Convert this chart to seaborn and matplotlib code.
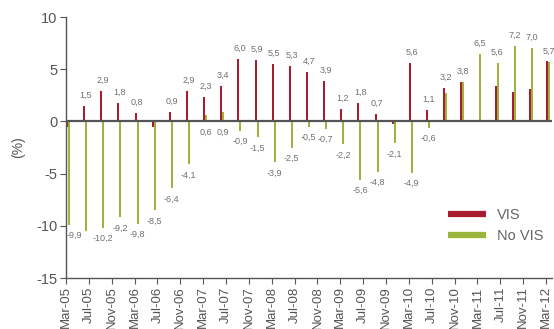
import numpy as np
import pandas as pd
import matplotlib
matplotlib.use("Agg")
import matplotlib.pyplot as plt
from matplotlib import font_manager
from matplotlib.lines import Line2D
import seaborn as sns

# Quarterly change, Mar-05 .. Mar-12 (%)
vis = [-0.5, 1.5, 2.9, 1.8, 0.8, -0.5, 0.9, 2.9, 2.3, 3.4, 6.0, 5.9, 5.5, 5.3, 4.7,
       3.9, 1.2, 1.8, 0.7, -0.2, 5.6, 1.1, 3.2, 3.8, 0.0, 3.4, 2.8, 3.1, 5.8]
no_vis = [-9.9, -10.5, -10.2, -9.2, -9.8, -8.5, -6.4, -4.1, 0.6, 0.9, -0.9, -1.5, -3.9,
          -2.5, -0.5, -0.7, -2.2, -5.6, -4.8, -2.1, -4.9, -0.6, 2.7, 3.8, 6.5, 5.6,
          7.2, 7.0, 5.7]
# which bars carry a value label
vis_labeled = [0, 1, 1, 1, 1, 0, 1, 1, 1, 1, 1, 1, 1, 1, 1, 1, 1, 1, 1, 0, 1, 1, 1, 1,
               0, 0, 0, 0, 0]
no_vis_labeled = [1, 0, 1, 1, 1, 1, 1, 1, 1, 1, 1, 1, 1, 1, 1, 1, 1, 1, 1, 1, 1, 1, 0, 0,
                  1, 1, 1, 1, 1]
tick_labels = ["Mar-05", "Jul-05", "Nov-05", "Mar-06", "Jul-06", "Nov-06", "Mar-07",
               "Jul-07", "Nov-07", "Mar-08", "Jul-08", "Nov-08", "Mar-09", "Jul-09",
               "Nov-09", "Mar-10", "Jul-10", "Nov-10", "Mar-11", "Jul-11", "Nov-11",
               "Mar-12"]
series_names = ["VIS", "No VIS"]
colors = {"VIS": "#A81C2E", "No VIS": "#9BB53C"}

sns.set_style("white")
installed = {f.name for f in font_manager.fontManager.ttflist}
family = [f for f in ["Liberation Sans Narrow", "Liberation Sans", "DejaVu Sans"]
          if f in installed]
plt.rcParams["font.family"] = family

BAR_W = 0.7 / 3  # pair width relative to the 3-month spacing
months = np.arange(len(vis)) * 3  # months since Mar-05
pair_center = months + 0.35

df = pd.DataFrame({
    "month": np.concatenate([pair_center, pair_center]),
    "value": vis + no_vis,
    "series": [series_names[0]] * len(vis) + [series_names[1]] * len(no_vis),
})

fig = plt.figure(figsize=(5.54, 3.29), dpi=100)
ax = fig.add_axes([0.119, 0.155, 0.877, 0.793])

sns.barplot(data=df, x="month", y="value", hue="series", hue_order=series_names,
            palette=colors, native_scale=True, dodge=True, width=BAR_W,
            errorbar=None, legend=False, ax=ax, linewidth=0, saturation=1)

axis_gray = "#555555"
ax.axhline(0, color=axis_gray, lw=1.6, zorder=3)

ax.set_xlim(0, 85)
ax.set_ylim(-15, 10)
ax.set_yticks([-15, -10, -5, 0, 5, 10])
ax.set_yticklabels(["-15", "-10", "-5", "0", "5", "10"], fontsize=10.5, color=axis_gray)
ax.set_xticks(np.arange(len(tick_labels)) * 4)
ax.set_xticklabels(tick_labels, rotation=90, fontsize=9.5, color=axis_gray)
ax.tick_params(axis="both", direction="out", length=4, width=0.8, color=axis_gray,
               pad=2, bottom=True, left=True)
for side in ["top", "right"]:
    ax.spines[side].set_visible(False)
for side in ["left", "bottom"]:
    ax.spines[side].set_color(axis_gray)
    ax.spines[side].set_linewidth(1.0)
ax.set_xlabel("")
ax.set_ylabel("(%)", fontsize=10, color=axis_gray, labelpad=8)
ax.grid(False)


def fmt(v):
    return f"{v:.1f}".replace(".", ",")


label_kw = dict(fontsize=6.5, color="#707070", ha="center", textcoords="offset points")
for i, x in enumerate(pair_center):
    # keep the first labels clear of the y axis
    dx = 4.5 if i == 0 else 0.5
    if vis_labeled[i]:
        v = vis[i]
        off = 4.5 if v >= 0 else -4.5
        ax.annotate(fmt(v), (x, v), xytext=(dx, off),
                    va="bottom" if v >= 0 else "top", **label_kw)
    if no_vis_labeled[i]:
        v = no_vis[i]
        if vis_labeled[i] or v < 0:
            y = min(v, 0)
            ax.annotate(fmt(v), (x, y), xytext=(dx, -4.5), va="top", **label_kw)
        else:
            ax.annotate(fmt(v), (x, v), xytext=(dx, 4.5), va="bottom", **label_kw)

handles = [Line2D([0], [0], color=colors[n], lw=4.5, solid_capstyle="butt")
           for n in series_names]
ax.legend(handles, series_names, loc="center left", bbox_to_anchor=(0.775, 0.201),
          borderaxespad=0, frameon=False, fontsize=10.5, labelcolor="#666666",
          handlelength=2.6, handletextpad=0.75, labelspacing=0.5)

fig.savefig("out.png", dpi=100)
